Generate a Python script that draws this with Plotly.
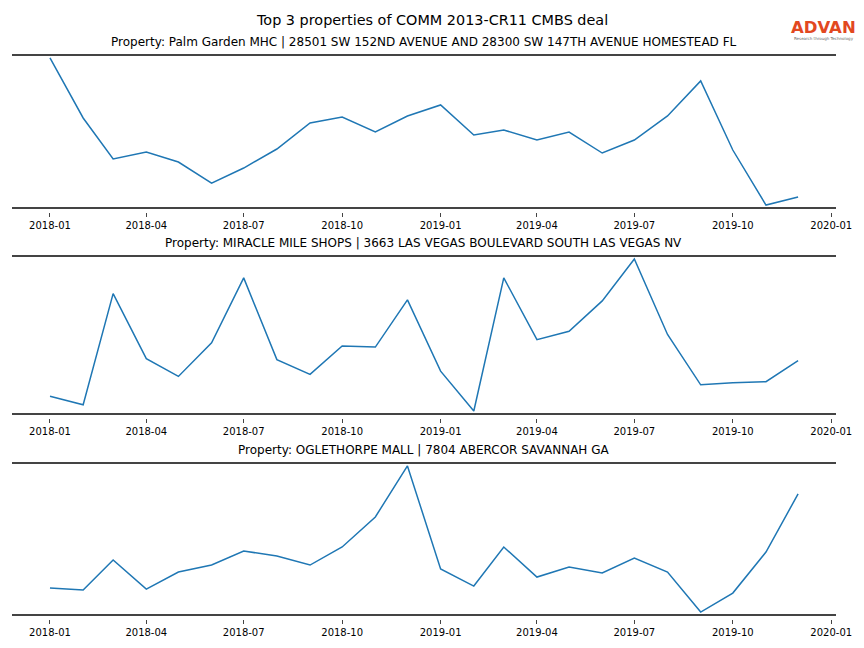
import plotly.graph_objects as go

months = ["2018-01-01", "2018-02-01", "2018-03-01", "2018-04-01", "2018-05-01", "2018-06-01",
          "2018-07-01", "2018-08-01", "2018-09-01", "2018-10-01", "2018-11-01", "2018-12-01",
          "2019-01-01", "2019-02-01", "2019-03-01", "2019-04-01", "2019-05-01", "2019-06-01",
          "2019-07-01", "2019-08-01", "2019-09-01", "2019-10-01", "2019-11-01", "2019-12-01"]

palm_garden = [149, 89, 48, 55, 45, 24, 39, 58, 84, 90, 75, 91,
               102, 72, 77, 67, 75, 54, 67, 91, 126, 57, 2, 10]
miracle_mile = [19, 11, 117, 55, 38, 70, 132, 54, 40, 67, 66, 111,
                43, 5, 132, 73, 81, 110, 150, 78, 30, 32, 33, 53]
oglethorpe = [25, 23, 53, 24, 41, 48, 62, 57, 48, 66, 96, 147,
              44, 27, 66, 36, 46, 40, 55, 41, 1, 20, 61, 119]

titles = ["Property: Palm Garden MHC | 28501 SW 152ND AVENUE AND 28300 SW 147TH AVENUE HOMESTEAD FL",
          "Property: MIRACLE MILE SHOPS | 3663 LAS VEGAS BOULEVARD SOUTH LAS VEGAS NV",
          "Property: OGLETHORPE MALL | 7804 ABERCOR SAVANNAH GA"]
series = [palm_garden, miracle_mile, oglethorpe]

tick_vals = ["2018-01-01", "2018-04-01", "2018-07-01", "2018-10-01", "2019-01-01",
             "2019-04-01", "2019-07-01", "2019-10-01", "2020-01-01"]
tick_text = ["2018-01", "2018-04", "2018-07", "2018-10", "2019-01",
             "2019-04", "2019-07", "2019-10", "2020-01"]

x_range = ["2017-11-26 01:00", "2020-01-04 23:00"]

# page body has an 8px margin; layout below is in target-pixel coords minus that offset
OFF = 8
W, H = 864 - 2 * OFF, 648 - 2 * OFF
panels_px = [(56, 207), (257, 413), (464, 614)]
x_left, x_right = 11.5, 835.5


def fx(px):
    return (px - OFF) / W


def fy(py):
    return 1 - (py - OFF) / H


fig = go.Figure()
for i, (vals, title) in enumerate(zip(series, titles)):
    top, bot = panels_px[i]
    idx = "" if i == 0 else str(i + 1)
    tidx = str(i + 4)
    fig.add_trace(go.Scatter(x=months, y=vals, mode="lines",
                             line=dict(color="#1f77b4", width=1.5),
                             xaxis="x" + idx, yaxis="y" + idx, showlegend=False))
    # invisible companion trace so the detached tick axis gets drawn
    fig.add_trace(go.Scatter(x=months, y=vals, mode="lines", opacity=0,
                             line=dict(width=0), hoverinfo="skip",
                             xaxis="x" + tidx, yaxis="y" + idx, showlegend=False))
    span = max(vals) - min(vals)
    fig.update_layout(**{
        "xaxis" + idx: dict(
            domain=[fx(x_left), fx(x_right)], anchor="y" + idx,
            range=x_range, type="date",
            showticklabels=False, ticks="",
            showline=True, mirror=True, linecolor="#444", linewidth=1.5,
            showgrid=False, zeroline=False, automargin=False,
        ),
        # tick-only axis just below the spine (ticks sit detached from the spine)
        "xaxis" + tidx: dict(
            domain=[fx(x_left), fx(x_right)], anchor="free", overlaying="x" + idx,
            position=fy(bot + 4.5), side="bottom",
            range=x_range, type="date",
            tickvals=tick_vals, ticktext=tick_text,
            ticks="outside", ticklen=4, tickcolor="#444", tickwidth=1,
            ticklabelstandoff=0,
            showline=False, showgrid=False, zeroline=False, automargin=False,
            tickfont=dict(family="DejaVu Sans", size=10, color="#000"),
        ),
        "yaxis" + idx: dict(
            domain=[fy(bot), fy(top)], anchor="x" + idx,
            range=[min(vals) - span * 0.013, max(vals) + span * 0.013],
            showticklabels=False, showgrid=False, zeroline=False, showline=False,
            ticks="", automargin=False,
        ),
    })
    fig.add_annotation(text=title, xref="paper", yref="paper",
                       x=fx((x_left + x_right) / 2), y=fy(top - 14),
                       showarrow=False, xanchor="center", yanchor="middle",
                       font=dict(family="DejaVu Sans", size=12, color="#000"))

fig.add_annotation(text="Top 3 properties of COMM 2013-CR11 CMBS deal", xref="paper", yref="paper",
                   x=fx(432), y=fy(20), showarrow=False, xanchor="center", yanchor="middle",
                   font=dict(family="DejaVu Sans", size=14.4, color="#000"))
fig.add_annotation(text="<b>ADVAN</b>", xref="paper", yref="paper",
                   x=fx(823.5), y=fy(28), showarrow=False, xanchor="center", yanchor="middle",
                   font=dict(family="DejaVu Sans", size=16.5, color="#E2481F"))
fig.add_annotation(text="Research through Technology", xref="paper", yref="paper",
                   x=fx(823.5), y=fy(38.5), showarrow=False, xanchor="center", yanchor="middle",
                   font=dict(family="DejaVu Sans", size=4, color="#666"))

fig.update_layout(width=W, height=H, margin=dict(l=0, r=0, t=0, b=0, pad=0),
                  paper_bgcolor="white", plot_bgcolor="white")
fig.write_html("out.html")
